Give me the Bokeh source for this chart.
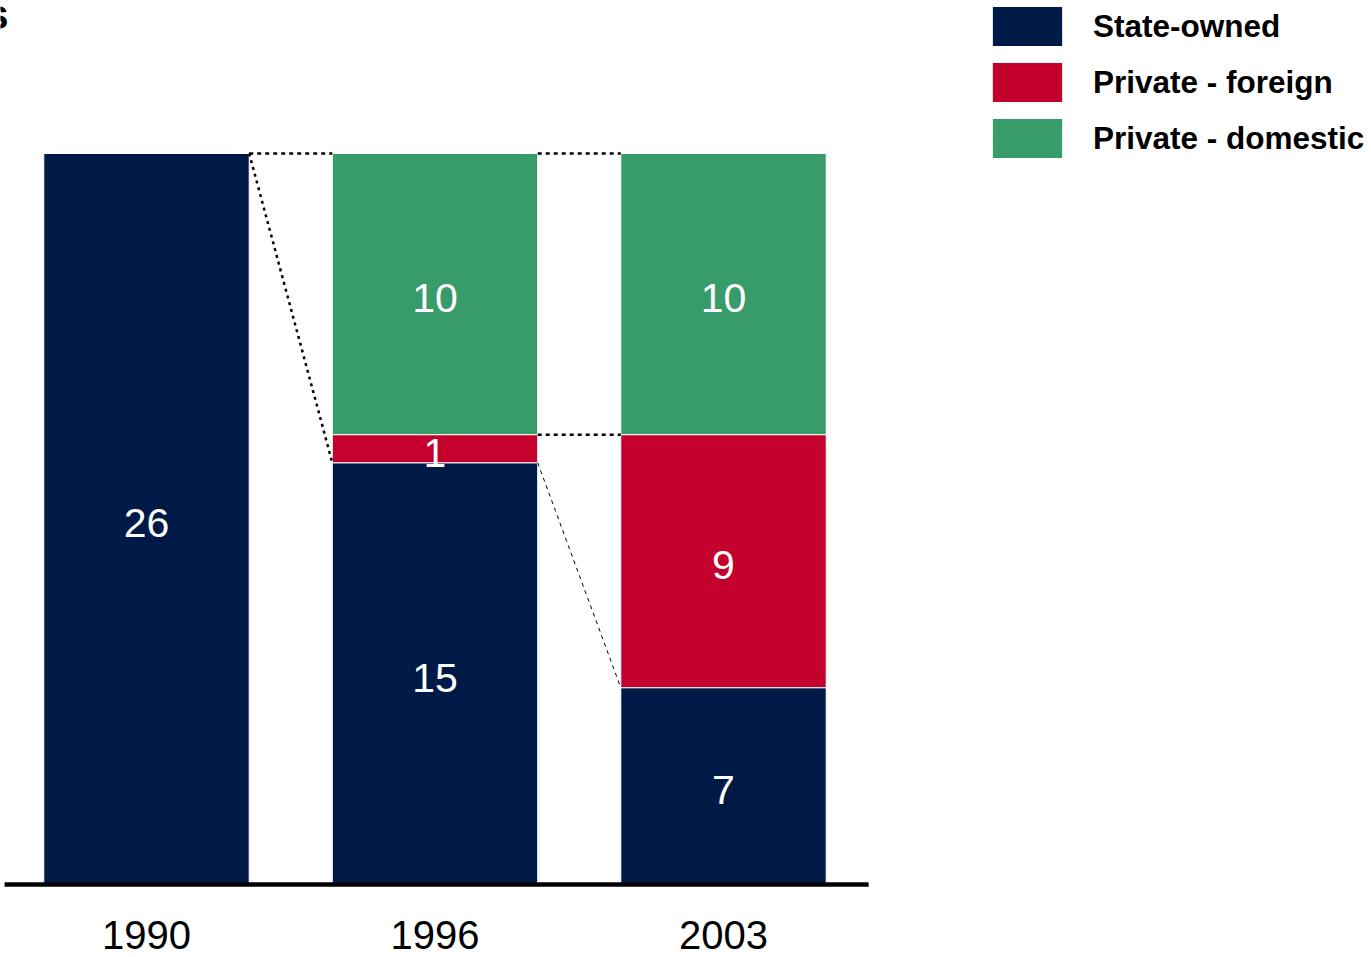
from bokeh.plotting import figure
from bokeh.models import Range1d, Legend, LegendItem, ColumnDataSource
from bokeh.core.properties import value
from bokeh.embed import file_html
from bokeh.resources import INLINE

# ---- data ----
years = ["1990", "1996", "2003"]
state_owned = [26, 15, 7]
private_foreign = [0, 1, 9]
private_domestic = [0, 10, 10]
series_names = ["State-owned", "Private - foreign", "Private - domestic"]
colors = ["#001A47", "#C4002D", "#379B6A"]

xs = list(range(len(years)))
bw = 0.712

p = figure(width=1371, height=957, output_backend="svg", toolbar_location=None,
           x_range=Range1d(-0.5061, 4.2461), y_range=Range1d(-2.597, 31.442),
           min_border=0, outline_line_color=None, background_fill_color="white",
           border_fill_color="white")
p.axis.visible = False
p.grid.visible = False

src = ColumnDataSource(dict(x=xs, years=years, s=state_owned, f=private_foreign, d=private_domestic))
rs = p.vbar_stack(["s", "f", "d"], x="x", width=bw, source=src, color=colors,
                  line_color="white", line_width=1)

# connector lines
tot = [a + b + c for a, b, c in zip(state_owned, private_foreign, private_domestic)]
sf = [a + b for a, b in zip(state_owned, private_foreign)]
h = bw / 2
for i in range(len(years) - 1):
    x0, x1 = xs[i] + h, xs[i + 1] - h
    p.line([x0, x1], [tot[i], tot[i + 1]], line_color="black", line_width=2.5, line_dash="4 4")
for i in range(len(years) - 1):
    x0, x1 = xs[i] + h, xs[i + 1] - h
    if i == 0:
        p.line([x0, x1], [state_owned[i], state_owned[i + 1]], line_color="black",
               line_width=2.5, line_dash="3 4")
    else:
        p.line([x0, x1], [sf[i], sf[i + 1]], line_color="black", line_width=2.5, line_dash="4 4")
        p.line([x0, x1], [state_owned[i], state_owned[i + 1]], line_color="black",
               line_width=1, line_dash="4 4")

# baseline
p.line([xs[0] - 0.492, xs[-1] + 0.503], [0, 0], line_color="black", line_width=4.5)

# value labels
lx, ly, lt = [], [], []
for i in range(len(years)):
    base = 0
    for vals in (state_owned, private_foreign, private_domestic):
        v = vals[i]
        if v > 0:
            lx.append(xs[i]); ly.append(base + v / 2); lt.append(str(v))
        base += v
p.text(lx, ly, text=lt, text_color="white", text_font=value("Liberation Sans"),
       text_font_size="41px", text_align="center", text_baseline="middle", y_offset=4)

# year labels
p.text(xs, [-1.8] * len(xs), text=years, text_color="black", text_font=value("Liberation Sans"),
       text_font_size="40px", text_align="center", text_baseline="middle")

# clipped title fragment
p.text([-0.478], [30.96], text=["s"], text_color="black", text_font=value("Liberation Sans"),
       text_font_size="42px", text_font_style="bold", text_align="right",
       text_baseline="alphabetic")

legend = Legend(items=[LegendItem(label=n, renderers=[r]) for n, r in zip(series_names, rs)],
                location=(983, 794), orientation="vertical",
                glyph_width=88, glyph_height=50, spacing=6, padding=0, margin=0,
                label_standoff=22, label_text_font="Liberation Sans",
                label_text_font_size="31.5px", label_text_font_style="bold",
                label_text_color="black", border_line_color=None,
                background_fill_alpha=0, label_height=50)
p.add_layout(legend, "center")

open("out.html", "w").write(file_html(p, INLINE))
